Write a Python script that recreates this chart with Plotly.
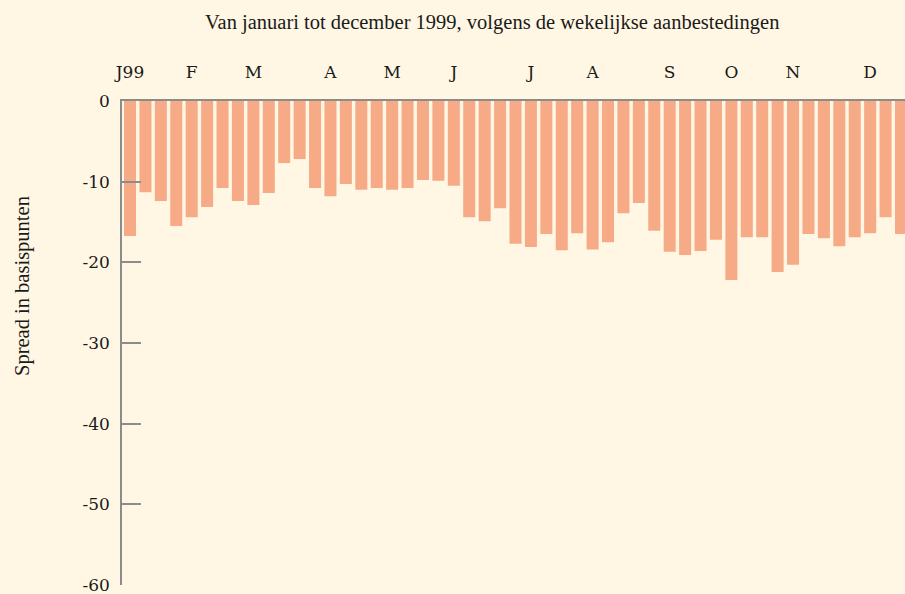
import plotly.graph_objects as go

weeks = list(range(1, 52))
spread = [-16.75, -11.3, -12.4, -15.5, -14.4, -13.15, -10.8, -12.4, -12.9, -11.4,
          -7.7, -7.2, -10.8, -11.8, -10.3, -11.0, -10.8, -11.0, -10.8, -9.8,
          -9.9, -10.5, -14.4, -14.9, -13.3, -17.7, -18.1, -16.5, -18.5, -16.4,
          -18.4, -17.5, -13.9, -12.65, -16.1, -18.7, -19.1, -18.6, -17.2, -22.2,
          -16.9, -16.9, -21.2, -20.3, -16.5, -17.0, -18.0, -16.9, -16.4, -14.4,
          -16.5]
month_weeks = [1, 5, 9, 14, 18, 22, 27, 31, 36, 40, 44, 49]
month_labels = ["J99", "F", "M", "A", "M", "J", "J", "A", "S", "O", "N", "D"]
y_ticks = [0, -10, -20, -30, -40, -50, -60]

BG = "#FFF7E4"
BAR = "#F6AB86"
GRAY = "#8C8C8C"
TXT = "#1A1A1A"

fig = go.Figure(go.Bar(x=weeks, y=spread, marker_color=BAR, marker_line_width=0))

fig.update_layout(
    width=905, height=594,
    paper_bgcolor=BG, plot_bgcolor=BG,
    margin=dict(l=122, r=0, t=101, b=9),
    bargap=0.22,
    showlegend=False,
    font=dict(family="DejaVu Serif", size=17, color=TXT),
)
fig.update_xaxes(
    side="top", range=[0.48, 51.26],
    tickmode="array", tickvals=month_weeks, ticktext=month_labels,
    ticks="", showgrid=False, zeroline=False,
    showline=True, linecolor=GRAY, linewidth=2, layer="below traces",
    ticklabelstandoff=14,
    tickfont=dict(family="DejaVu Serif", size=17, color=TXT),
)
fig.update_yaxes(
    range=[-60, 0], tickmode="array", tickvals=y_ticks,
    ticktext=[str(v) for v in y_ticks],
    ticks="inside", ticklen=19, tickcolor=GRAY, tickwidth=1.5,
    showgrid=False, zeroline=False,
    showline=True, linecolor=GRAY, linewidth=1.5,
    ticklabelstandoff=7, ticklabeloverflow="allow",
    tickfont=dict(family="DejaVu Serif", size=17, color=TXT),
)
fig.add_annotation(
    text="Van januari tot december 1999, volgens de wekelijkse aanbestedingen",
    xref="paper", yref="paper", x=(492 - 122) / 783, y=1 + (101 - 22) / 484,
    showarrow=False, xanchor="center", yanchor="middle",
    font=dict(family="Liberation Serif", size=20.5, color=TXT),
)
fig.add_annotation(
    text="Spread in basispunten",
    xref="paper", yref="paper", x=-(122 - 22) / 783, y=(585 - 286) / 484,
    showarrow=False, xanchor="center", yanchor="middle", textangle=-90,
    font=dict(family="Liberation Serif", size=20.5, color=TXT),
)

fig.write_html(
    "out.html",
    config={"displayModeBar": False},
    post_script="document.body.style.margin='0';document.body.style.overflow='hidden';",
)
